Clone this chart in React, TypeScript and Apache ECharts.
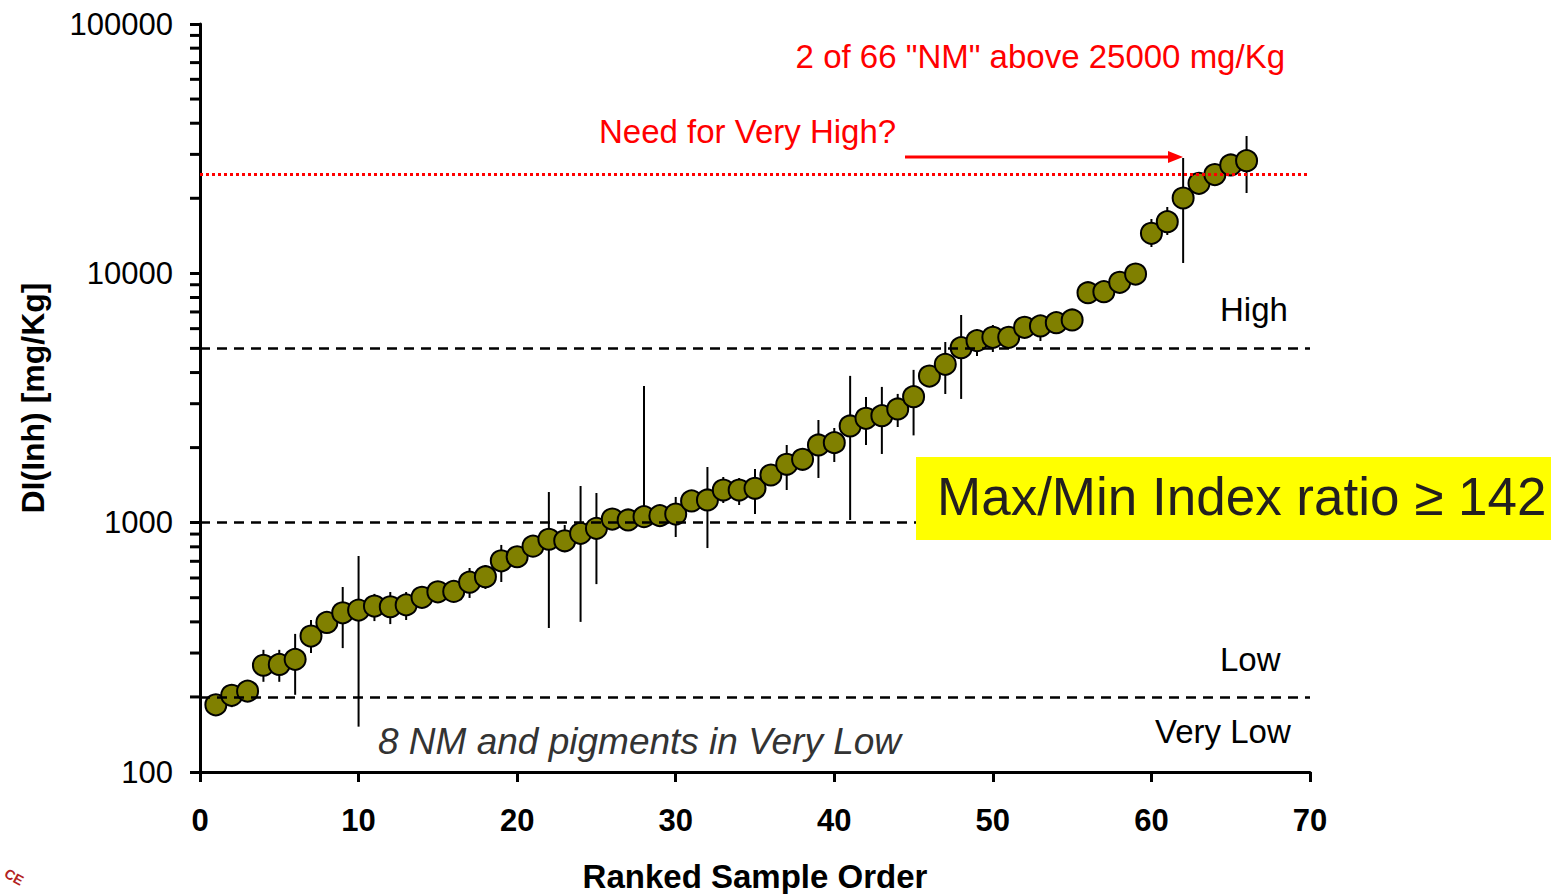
import React, { useEffect, useRef } from "react";
import * as echarts from "echarts";

// Ranked sample order (x) and DI(Inh) values (y, mg/Kg)
const sampleRank = [
  1, 2, 3, 4, 5, 6, 7, 8, 9, 10, 11, 12, 13, 14, 15, 16, 17, 18, 19, 20, 21, 22,
  23, 24, 25, 26, 27, 28, 29, 30, 31, 32, 33, 34, 35, 36, 37, 38, 39, 40, 41, 42,
  43, 44, 45, 46, 47, 48, 49, 50, 51, 52, 53, 54, 55, 56, 57, 58, 59, 60, 61, 62,
  63, 64, 65, 66,
];
const diValues = [
  186, 203, 211, 268, 270, 283, 351, 398, 435, 446, 463, 460, 468, 502, 528, 530,
  577, 607, 703, 730, 805, 858, 846, 906, 949, 1034, 1025, 1057, 1067, 1083, 1222,
  1233, 1352, 1352, 1374, 1553, 1715, 1796, 2049, 2094, 2442, 2622, 2686, 2857,
  3200, 3873, 4315, 5032, 5370, 5540, 5540, 6075, 6150, 6340, 6500, 8360, 8440,
  9204, 9935, 14470, 16110, 20050, 22970, 24900, 27200, 28300,
];
// Error bar ends (null = no visible bar)
const errLow = [
  null, 182, null, 230, 230, 204, 300, null, 314, 152, 403, 392, 407, null, null, null,
  499, 542, 578, null, null, 378, 762, 400, 567, null, 926, 970, null, 876, null,
  791, 1199, 1177, 1083, null, 1352, null, 1511, 1751, 1025, 2049, 1886, 2419,
  2239, null, 3282, 3135, 4661, 4836, null, null, 5353, null, null, null, null,
  null, null, 12755, 14250, 11003, null, null, null, 21000,
];
const errHigh = [
  null, 210, null, 309, 309, 358, 407, null, 552, 735, 518, 527, 527, null, null, null,
  658, 676, 814, null, null, 1327, 979, 1403, 1315, null, 1134, 3532, null, 1268, null,
  1672, 1525, 1510, 1642, null, 2049, null, 2581, 2397, 3879, 3195, 3503, 3284,
  4100, null, 5304, 6806, 5970, 6207, null, null, 6806, null, null, null, null,
  null, null, 16520, 18450, 29010, null, null, null, 35540,
];
// Class boundaries (dashed) and the 25000 threshold (red dotted)
const classBounds = [200, 1000, 5000];
const veryHighThreshold = 25000;
// Log-axis minor tick positions
const minorTickValues = [
  200, 300, 400, 500, 600, 700, 800, 900,
  2000, 3000, 4000, 5000, 6000, 7000, 8000, 9000,
  20000, 30000, 40000, 50000, 60000, 70000, 80000, 90000,
];
const yTickLabels = ["100", "1000", "10000", "100000"];

const FONT = "Liberation Sans, Arial, Helvetica, sans-serif";

export default function App() {
  const ref = useRef<HTMLDivElement>(null);

  useEffect(() => {
    if (!ref.current) return;
    const chart = echarts.init(ref.current, undefined, { renderer: "svg" });

    const points = sampleRank.map((x, i) => [x, diValues[i]]);
    const bars: number[][] = [];
    sampleRank.forEach((x, i) => {
      const lo = errLow[i];
      const hi = errHigh[i];
      if (lo != null && hi != null) bars.push([x, lo, hi]);
    });

    const option: any = {
      animation: false,
      backgroundColor: "#ffffff",
      textStyle: { fontFamily: FONT },
      grid: {
        left: 200,
        right: 241,
        top: 24,
        bottom: 122,
        containLabel: false,
        outerBoundsMode: "none",
      },
      xAxis: {
        type: "value",
        min: 0,
        max: 70,
        interval: 10,
        name: "Ranked Sample Order",
        nameLocation: "middle",
        nameGap: 88,
        nameTextStyle: { fontFamily: FONT, fontSize: 33, fontWeight: "bold", color: "#000" },
        axisLine: { onZero: false, lineStyle: { color: "#000", width: 3 } },
        axisTick: { show: true, inside: false, length: 10, lineStyle: { color: "#000", width: 3 } },
        axisLabel: { margin: 33, fontFamily: FONT, fontSize: 31, fontWeight: "bold", color: "#000" },
        splitLine: { show: false },
      },
      yAxis: {
        type: "log",
        logBase: 10,
        min: 100,
        max: 100000,
        name: "DI(Inh) [mg/Kg]",
        nameLocation: "middle",
        nameGap: 151,
        nameTextStyle: { fontFamily: FONT, fontSize: 32, fontWeight: "bold", color: "#000" },
        axisLine: { show: true, onZero: false, lineStyle: { color: "#000", width: 3 } },
        axisTick: { show: true, inside: false, length: 10, lineStyle: { color: "#000", width: 3 } },
        axisLabel: {
          margin: 27,
          fontFamily: FONT,
          fontSize: 31,
          color: "#000",
          formatter: (v: number) => {
            const r = Math.round(v);
            const s = String(r);
            return yTickLabels.indexOf(s) >= 0 ? s : "";
          },
        },
        splitLine: { show: false },
      },
      series: [
        {
          type: "custom",
          name: "minorTicks",
          clip: false,
          silent: true,
          z: 3,
          encode: { x: 0, y: 1 },
          data: minorTickValues.map((v) => [0, v]),
          renderItem: (_p: any, api: any) => {
            const p = api.coord([0, api.value(1)]);
            return {
              type: "line",
              shape: { x1: p[0] - 10, y1: p[1], x2: p[0], y2: p[1] },
              style: { stroke: "#000", lineWidth: 3 },
            };
          },
        },
        {
          type: "custom",
          name: "errorBars",
          silent: true,
          z: 2,
          encode: { x: 0, y: [1, 2] },
          data: bars,
          renderItem: (_p: any, api: any) => {
            const x = api.value(0);
            const a = api.coord([x, api.value(1)]);
            const b = api.coord([x, api.value(2)]);
            return {
              type: "line",
              shape: { x1: a[0], y1: a[1], x2: b[0], y2: b[1] },
              style: { stroke: "#000", lineWidth: 2 },
            };
          },
        },
        {
          type: "scatter",
          name: "DI(Inh)",
          z: 4,
          symbol: "circle",
          symbolSize: 21,
          itemStyle: { color: "#808000", borderColor: "#000", borderWidth: 2, opacity: 1 },
          data: points,
        },
        {
          type: "line",
          name: "bounds",
          z: 5,
          data: [],
          markLine: {
            silent: true,
            symbol: ["none", "none"],
            label: { show: false },
            animation: false,
            data: [
              ...classBounds.map((v) => ({
                yAxis: v,
                lineStyle: { color: "#000", width: 2.5, type: [10, 7] },
              })),
              {
                yAxis: veryHighThreshold,
                lineStyle: { color: "#ff0000", width: 3, type: [3, 3] },
              },
            ],
          },
        },
      ],
      graphic: [
        {
          type: "rect",
          left: 916,
          top: 457,
          shape: { width: 635, height: 83 },
          style: { fill: "#ffff00" },
          z: 100,
        },
        {
          type: "text",
          left: 937,
          top: 470,
          style: {
            text: "Max/Min Index ratio \u2265 142",
            font: `53px ${FONT}`,
            fill: "#231f20",
          },
          z: 101,
        },
        {
          type: "text",
          right: 1551 - 1285,
          top: 40,
          style: {
            text: '2 of 66 "NM" above 25000 mg/Kg',
            font: `33px ${FONT}`,
            fill: "#ff0000",
          },
          z: 100,
        },
        {
          type: "text",
          left: 599,
          top: 115,
          style: { text: "Need for Very High?", font: `33px ${FONT}`, fill: "#ff0000" },
          z: 100,
        },
        {
          type: "line",
          shape: { x1: 905, y1: 157, x2: 1170, y2: 157 },
          style: { stroke: "#ff0000", lineWidth: 3 },
          z: 100,
        },
        {
          type: "polygon",
          shape: { points: [[1168, 151], [1183, 157], [1168, 163]] },
          style: { fill: "#ff0000" },
          z: 100,
        },
        {
          type: "text",
          left: 1220,
          top: 293,
          style: { text: "High", font: `33px ${FONT}`, fill: "#000" },
          z: 100,
        },
        {
          type: "text",
          left: 1220,
          top: 643,
          style: { text: "Low", font: `33px ${FONT}`, fill: "#000" },
          z: 100,
        },
        {
          type: "text",
          left: 1155,
          top: 715,
          style: { text: "Very Low", font: `33px ${FONT}`, fill: "#000" },
          z: 100,
        },
        {
          type: "text",
          left: 378,
          top: 723,
          style: {
            text: "8 NM and pigments in Very Low",
            font: `italic 37px ${FONT}`,
            fill: "#333333",
          },
          z: 100,
        },
        {
          type: "text",
          x: 9,
          y: 866,
          rotation: -0.5,
          style: { text: "CE", font: `bold 14px ${FONT}`, fill: "#b22222" },
          z: 100,
        },
      ],
    };

    chart.setOption(option);
    return () => chart.dispose();
  }, []);

  return (
    <div
      ref={ref}
      style={{ position: "fixed", left: 0, top: 0, width: 1551, height: 894, background: "#fff" }}
    />
  );
}
